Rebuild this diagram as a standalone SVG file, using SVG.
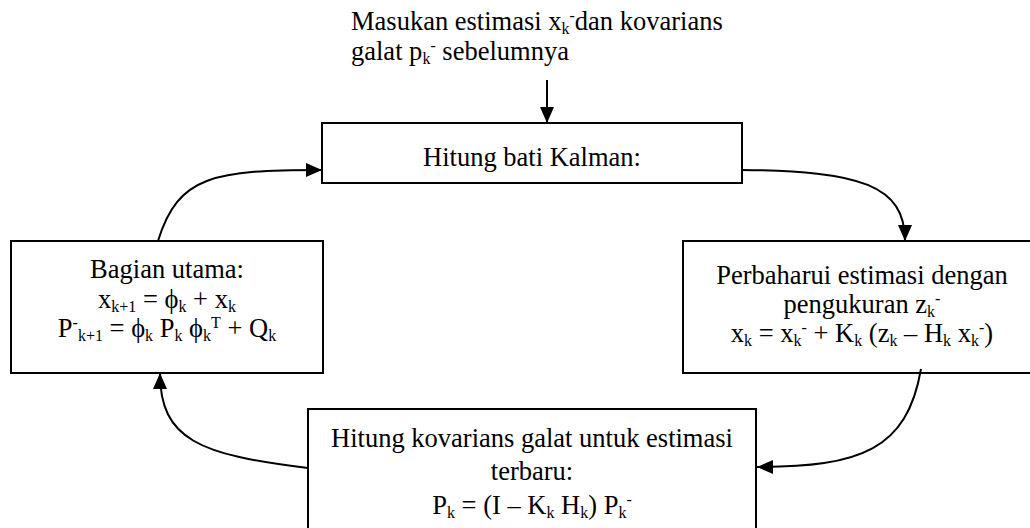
<svg xmlns="http://www.w3.org/2000/svg" width="1030" height="528" viewBox="0 0 1030 528">
<style>
  .box { fill: #fff; stroke: #000; stroke-width: 2; }
  .t { font-family: "Liberation Serif", "Times New Roman", serif; font-size: 26.5px; fill: #000; }
  .m { text-anchor: middle; }
  .s { font-size: 16px; }
  .conn { fill: none; stroke: #000; stroke-width: 2; marker-end: url(#ah); }
</style>
<defs>
  <marker id="ah" markerUnits="userSpaceOnUse" markerWidth="16" markerHeight="14" refX="16" refY="7" orient="auto">
    <path d="M0,0 L16,7 L0,14 z" fill="#000"/>
  </marker>
</defs>
<rect width="1030" height="528" fill="#fff"/>

<g id="input-label">
  <text class="t" x="351" y="30">Masukan estimasi x<tspan class="s" dy="4">k</tspan><tspan class="s" dy="-13">-</tspan><tspan dy="9">dan kovarians</tspan></text>
  <text class="t" x="351" y="60">galat p<tspan class="s" dy="4">k</tspan><tspan class="s" dy="-13">-</tspan><tspan dy="9"> sebelumnya</tspan></text>
</g>

<g id="node-gain">
  <rect class="box" x="322" y="123" width="420" height="60"/>
  <text class="t m" x="532" y="166">Hitung bati Kalman:</text>
</g>

<g id="node-predict">
  <rect class="box" x="11" y="241" width="312" height="132"/>
  <text class="t m" x="167" y="278">Bagian utama:</text>
  <text class="t m" x="167" y="308">x<tspan class="s" dy="4">k+1</tspan><tspan dy="-4"> = ϕ</tspan><tspan class="s" dy="4">k</tspan><tspan dy="-4"> + x</tspan><tspan class="s" dy="4">k</tspan></text>
  <text class="t m" x="167" y="337">P<tspan class="s" dy="-9">-</tspan><tspan class="s" dy="13">k+1</tspan><tspan dy="-4"> = ϕ</tspan><tspan class="s" dy="4">k</tspan><tspan dy="-4"> P</tspan><tspan class="s" dy="4">k</tspan><tspan dy="-4"> ϕ</tspan><tspan class="s" dy="4">k</tspan><tspan class="s" dy="-13">T</tspan><tspan dy="9"> + Q</tspan><tspan class="s" dy="4">k</tspan></text>
</g>

<g id="node-update">
  <rect class="box" x="683" y="241" width="358" height="132"/>
  <text class="t m" x="862" y="284">Perbaharui estimasi dengan</text>
  <text class="t m" x="862" y="313">pengukuran z<tspan class="s" dy="4">k</tspan><tspan class="s" dy="-13">-</tspan></text>
  <text class="t m" x="862" y="342">x<tspan class="s" dy="4">k</tspan><tspan dy="-4"> = x</tspan><tspan class="s" dy="4">k</tspan><tspan class="s" dy="-13">-</tspan><tspan dy="9"> + K</tspan><tspan class="s" dy="4">k</tspan><tspan dy="-4"> (z</tspan><tspan class="s" dy="4">k</tspan><tspan dy="-4"> – H</tspan><tspan class="s" dy="4">k</tspan><tspan dy="-4"> x</tspan><tspan class="s" dy="4">k</tspan><tspan class="s" dy="-13">-</tspan><tspan dy="9">)</tspan></text>
</g>

<g id="node-covariance">
  <rect class="box" x="308" y="409" width="448" height="140"/>
  <text class="t m" x="532" y="447">Hitung kovarians galat untuk estimasi</text>
  <text class="t m" x="532" y="480">terbaru:</text>
  <text class="t m" x="532" y="514">P<tspan class="s" dy="4">k</tspan><tspan dy="-4"> = (I – K</tspan><tspan class="s" dy="4">k</tspan><tspan dy="-4"> H</tspan><tspan class="s" dy="4">k</tspan><tspan dy="-4">) P</tspan><tspan class="s" dy="4">k</tspan><tspan class="s" dy="-13">-</tspan></text>
</g>

<g id="connectors">
  <path class="conn" d="M547,80 L547,123"/>
  <path class="conn" d="M158,241 C178,175 215,170 322,170"/>
  <path class="conn" d="M742,170 C860,171 905,185 905,241"/>
  <path class="conn" d="M921,369 C907,450 860,467 757,467"/>
  <path class="conn" d="M308,468 C200,455 160,440 160,373"/>
</g>
</svg>
